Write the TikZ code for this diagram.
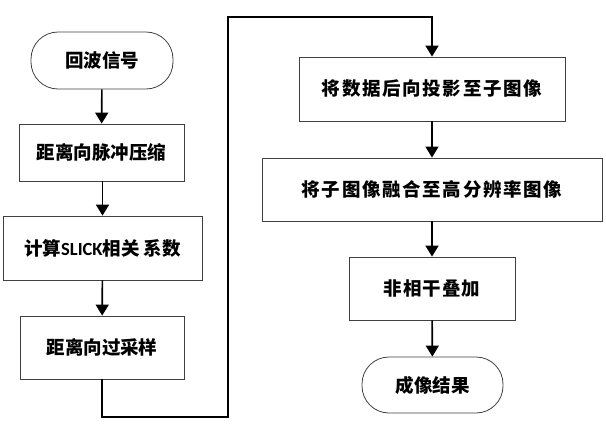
\documentclass[tikz,border=0pt]{standalone}
\usepackage{fontspec}
\setmainfont{Carlito}
\newfontfamily\cjk{Noto Sans CJK SC}
\usetikzlibrary{arrows.meta,positioning}
\tikzset{
  box/.style={draw=black!75, line width=0.8pt, rectangle, inner sep=0pt, font=\cjk\bfseries\fontsize{18.5}{22}\selectfont},
  term/.style={box, rounded corners=27pt},
  flow/.style={line width=1.6pt, -{Triangle[length=11pt,width=13pt]}},
}
\begin{document}
\begin{tikzpicture}[x=1pt,y=-1pt]
\useasboundingbox (0,0) rectangle (606,434);
\node[term, minimum width=142pt, minimum height=57pt] (start) at (102,60.5) {回波信号};
\node[box, minimum width=165pt, minimum height=57pt] (b1) at (101.5,152.5) {距离向脉冲压缩};
\node[box, minimum width=199pt, minimum height=64pt] (b2) at (102.5,248) {计算{\fontspec{Carlito}\bfseries SLICK}相关 系数};
\node[box, minimum width=164pt, minimum height=63pt] (b3) at (102,347.5) {距离向过采样};
\node[box, minimum width=266pt, minimum height=64pt] (b4) at (432,89) {\addfontfeature{LetterSpace=9}将数据后向投影至子图像};
\node[box, minimum width=340pt, minimum height=63pt] (b5) at (432,189.5) {\addfontfeature{LetterSpace=9}将子图像融合至高分辨率图像};
\node[box, minimum width=166pt, minimum height=63pt] (b6) at (432,288.5) {\addfontfeature{LetterSpace=5}非相干叠加};
\node[term, minimum width=141pt, minimum height=56pt] (end) at (432.5,385) {成像结果};
\coordinate (c1) at (102,417);
\coordinate (c2) at (228,417);
\coordinate (c3) at (228,17);
\coordinate (c4) at (432,17);
\draw[flow] (start) -- (b1);
\draw[flow] (b1.south -| b2.north) -- (b2);
\draw[flow] (b2) -- (b3);
\draw[flow] (b3.south) -- (c1) -- (c2) -- (c3) -- (c4) -- (b4.north);
\draw[flow] (b4) -- (b5);
\draw[flow] (b5) -- (b6);
\draw[flow] (b6) -- (end);
\end{tikzpicture}
\end{document}
